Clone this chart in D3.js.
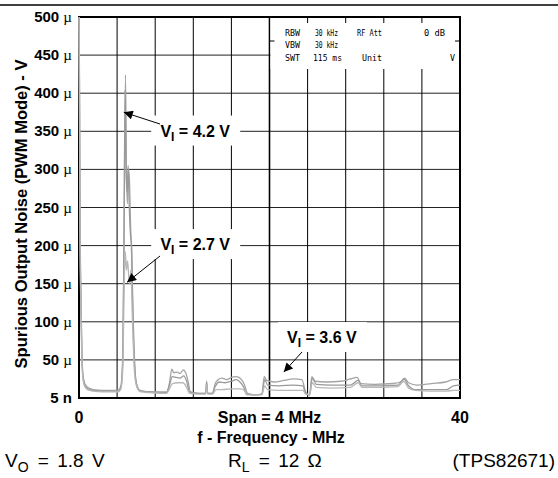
<!DOCTYPE html>
<html>
<head>
<meta charset="utf-8">
<script src="https://cdn.jsdelivr.net/npm/d3@7"></script>
<style>
  body { margin: 0; background: #fff; }
  text { font-family: "Liberation Sans", Arial, sans-serif; }
</style>
</head>
<body>
<svg id="chart" width="558" height="478"></svg>
<script>
// y grid values (uV) and their labels
var yTicks = [500, 450, 400, 350, 300, 250, 200, 150, 100, 50, 0];
var yTickLabels = ["500", "450", "400", "350", "300", "250", "200", "150", "100", "50", "5"];
var yTickUnits = ["µ", "µ", "µ", "µ", "µ", "µ", "µ", "µ", "µ", "µ", "n"];
var xGrid = [0, 4, 8, 12, 16, 20, 24, 28, 32, 36, 40];

// traces: [frequency, noise uV]
var trace42 = [[0, 520], [0.05, 420], [0.1, 260], [0.2, 140], [0.3, 65], [0.4, 32], [0.6, 19], [0.9, 14], [1.5, 11], [2.5, 10], [3.5, 10], [4.1, 10], [4.4, 16], [4.6, 60], [4.75, 250], [4.88, 424], [4.98, 300], [5.08, 255], [5.2, 300], [5.3, 285], [5.42, 225], [5.52, 190], [5.65, 110], [5.82, 45], [6.05, 18], [6.4, 10], [7.5, 8], [9.2, 8], [9.5, 20], [9.75, 38], [9.95, 33], [10.3, 34], [10.6, 32], [10.95, 37], [11.2, 33], [11.45, 22], [11.7, 8], [12.5, 6], [13.3, 6], [13.4, 22], [13.5, 6], [14.0, 6], [14.3, 19], [14.6, 24], [15.0, 26], [15.5, 24], [16.0, 27], [16.5, 28], [17.0, 25], [17.35, 18], [17.7, 6], [18.5, 4], [19.2, 5], [19.45, 28], [19.7, 23], [20.5, 21], [21.5, 23], [22.5, 25], [23.4, 24], [23.8, 8], [24.2, 4], [24.45, 28], [24.8, 22], [26, 21], [27.5, 22], [28.5, 25], [29.2, 27], [29.6, 19], [31, 18], [33, 19], [33.9, 22], [34.2, 26], [34.6, 20], [35.5, 17], [37, 19], [38.5, 21], [39.3, 24], [40, 24]];
var trace36 = [[0, 520], [0.05, 400], [0.1, 240], [0.2, 125], [0.3, 58], [0.4, 30], [0.6, 17], [0.9, 12], [1.5, 10], [2.5, 9], [3.5, 9], [4.1, 9], [4.4, 14], [4.6, 50], [4.72, 200], [4.84, 404], [4.96, 290], [5.06, 270], [5.16, 305], [5.28, 250], [5.4, 215], [5.52, 200], [5.64, 130], [5.85, 45], [6.05, 17], [6.4, 9], [7.5, 8], [9.2, 7], [9.5, 17], [9.8, 28], [10.2, 27], [10.6, 26], [11.0, 29], [11.3, 22], [11.6, 8], [12.5, 6], [13.3, 6], [13.4, 20], [13.5, 6], [14.0, 6], [14.3, 15], [14.7, 21], [15.3, 20], [16.0, 22], [16.5, 24], [16.9, 21], [17.3, 14], [17.6, 5], [18.5, 4], [19.2, 5], [19.5, 24], [19.8, 17], [21, 16], [22.5, 17], [23.5, 16], [23.8, 6], [24.2, 4], [24.5, 26], [24.9, 18], [26.5, 17], [28.5, 17], [29.3, 23], [29.7, 16], [31.5, 16], [33.5, 17], [34.1, 25], [34.6, 16], [35.3, 11], [37, 11], [38.6, 11], [39.3, 16], [40, 17]];
var trace27 = [[0, 520], [0.05, 380], [0.1, 220], [0.2, 115], [0.3, 52], [0.4, 27], [0.6, 15], [0.9, 11], [1.5, 9], [2.5, 8], [3.5, 8], [4.1, 8], [4.4, 12], [4.6, 40], [4.75, 150], [4.86, 192], [4.98, 168], [5.1, 180], [5.22, 160], [5.32, 150], [5.45, 168], [5.58, 115], [5.75, 50], [5.95, 20], [6.2, 11], [6.5, 8], [7.5, 7], [9.2, 6], [9.5, 12], [9.8, 19], [10.4, 20], [10.9, 20], [11.3, 14], [11.6, 6], [12.5, 5], [13.3, 5], [13.4, 18], [13.5, 5], [14.0, 5], [14.4, 11], [15.0, 11], [16.0, 12], [17.0, 12], [17.4, 9], [17.6, 4], [18.5, 4], [19.2, 4], [19.5, 16], [19.8, 11], [21, 10], [22.5, 10], [23.5, 10], [23.8, 5], [24.2, 4], [24.5, 20], [24.9, 14], [26.5, 13], [28.5, 14], [29.3, 20], [29.7, 14], [31.5, 14], [33.5, 15], [34.1, 22], [34.6, 13], [35.3, 10], [37, 9], [38.6, 9], [39.3, 10], [40, 10]];

var traces = [
  { name: "4.2", data: trace42, color: "#a4a4a4" },
  { name: "3.6", data: trace36, color: "#9a9a9a" },
  { name: "2.7", data: trace27, color: "#b8b8b8" }
];

// annotation labels: text value, label centre, arrow tip (in data units)
var annotations = [
  { label: "4.2 V", at: [12.2, 351], tip: [4.7, 375] },
  { label: "2.7 V", at: [12.2, 202], tip: [5.05, 152] },
  { label: "3.6 V", at: [25.5, 80], tip: [21.5, 34] }
];

var svg = d3.select("#chart");
var margin = { top: 17, right: 98, bottom: 80, left: 79 };
var width = 558 - margin.left - margin.right,
    height = 478 - margin.top - margin.bottom;

var x = d3.scaleLinear().domain([0, 40]).range([margin.left, margin.left + width]);
var y = d3.scaleLinear().domain([0, 500]).range([margin.top + height, margin.top]);

// rule at top of page
svg.append("line").attr("x1", 0).attr("x2", 558).attr("y1", 5).attr("y2", 5)
  .attr("stroke", "#000").attr("stroke-width", 1.5);

// grid
var grid = svg.append("g");
grid.selectAll(".hg").data(yTicks).enter().append("line")
  .attr("x1", x(0)).attr("x2", x(40))
  .attr("y1", d => y(d)).attr("y2", d => y(d))
  .attr("stroke", "#222").attr("stroke-width", 1);
grid.selectAll(".vg").data(xGrid).enter().append("line")
  .attr("x1", d => x(d)).attr("x2", d => x(d))
  .attr("y1", y(500)).attr("y2", y(0))
  .attr("stroke", "#000").attr("stroke-width", d => d == 20 ? 1.6 : 1);

// info box (instrument settings), blanks grid under it
var boxX = x(20), boxW = x(40) - x(20), boxH = 52;
svg.append("rect").attr("x", boxX + 1).attr("y", y(500)).attr("width", boxW - 1).attr("height", boxH)
  .attr("fill", "#fff");
xGrid.filter(d => d > 20 && d < 40).forEach(function (d) {
  svg.append("line").attr("x1", x(d)).attr("x2", x(d)).attr("y1", y(500)).attr("y2", y(500) + 6)
    .attr("stroke", "#000");
});
[[boxX, boxX + 5], [x(40) - 5, x(40)]].forEach(function (p) {
  svg.append("line").attr("x1", p[0]).attr("x2", p[1]).attr("y1", 41).attr("y2", 41).attr("stroke", "#000");
});
// [text, x, baseline, width]
var info = [
  ["RBW", 285, 36, 15], ["30 kHz", 315, 36, 23], ["RF Att", 357, 36, 25], ["0 dB", 424, 36, 21],
  ["VBW", 285, 48, 15], ["30 kHz", 315, 48, 23],
  ["SWT", 285, 61, 15], ["115 ms", 313, 61, 29], ["Unit", 362, 61, 20], ["V", 450, 61, 5]
];
svg.selectAll(".info").data(info).enter().append("text")
  .attr("x", d => d[1]).attr("y", d => d[2])
  .attr("textLength", d => d[3]).attr("lengthAdjust", "spacingAndGlyphs")
  .style("font-family", "'DejaVu Sans Mono', monospace").style("font-size", "8.5px")
  .text(d => d[0]);

// annotation backgrounds
annotations.forEach(function (a) {
  svg.append("rect").attr("x", x(a.at[0]) - 44).attr("y", y(a.at[1]) - 15)
    .attr("width", 89).attr("height", 30).attr("fill", "#fff");
});

// frame
svg.append("rect").attr("x", x(0)).attr("y", y(500)).attr("width", width).attr("height", height)
  .attr("fill", "none").attr("stroke", "#000").attr("stroke-width", 2);

// traces
svg.append("clipPath").attr("id", "clip").append("rect")
  .attr("x", x(0) - 2).attr("y", y(500)).attr("width", width + 2).attr("height", height);
var line = d3.line().x(d => x(d[0])).y(d => y(d[1])).curve(d3.curveMonotoneX);
svg.append("g").attr("clip-path", "url(#clip)")
  .selectAll("path").data(traces).enter().append("path")
  .attr("d", d => line(d.data))
  .attr("fill", "none").attr("stroke", d => d.color).attr("stroke-width", 1.3);

// arrows
svg.append("defs").append("marker").attr("id", "arrow")
  .attr("viewBox", "0 0 10 10").attr("refX", 10).attr("refY", 5)
  .attr("markerWidth", 11).attr("markerHeight", 9).attr("markerUnits", "userSpaceOnUse")
  .attr("orient", "auto")
  .append("path").attr("d", "M0,0L10,5L0,10z").attr("fill", "#000");

annotations.forEach(function (a) {
  var t = svg.append("text").attr("x", x(a.at[0])).attr("y", y(a.at[1]) + 6)
    .attr("text-anchor", "middle").style("font-weight", "bold").style("font-size", "16px");
  t.append("tspan").text("V");
  t.append("tspan").attr("dy", 4).style("font-size", "12px").text("I");
  t.append("tspan").attr("dy", -4).text("  = " + a.label);
});
var arrowStart = [[160, 124], [160, 256], [302, 352]];
annotations.forEach(function (a, i) {
  svg.append("line").attr("x1", arrowStart[i][0]).attr("y1", arrowStart[i][1])
    .attr("x2", x(a.tip[0])).attr("y2", y(a.tip[1]))
    .attr("stroke", "#000").attr("stroke-width", 1).attr("marker-end", "url(#arrow)");
});

// y tick labels
var yl = svg.append("g").selectAll("text").data(yTicks).enter().append("text")
  .attr("x", 72).attr("y", d => y(d) + 5).attr("text-anchor", "end")
  .style("font-size", "15px").style("font-weight", "bold");
yl.append("tspan").text((d, i) => yTickLabels[i] + " ");
yl.append("tspan").style("font-family", (d, i) => yTickUnits[i] == "µ" ? "'Liberation Serif', serif" : null)
  .style("font-weight", (d, i) => yTickUnits[i] == "µ" ? "normal" : "bold")
  .text((d, i) => yTickUnits[i]);

// x labels
svg.append("text").attr("x", x(0)).attr("y", 423).attr("text-anchor", "middle")
  .style("font-size", "16px").style("font-weight", "bold").text("0");
svg.append("text").attr("x", x(40)).attr("y", 423).attr("text-anchor", "middle")
  .style("font-size", "16px").style("font-weight", "bold").text("40");
svg.append("text").attr("x", x(20)).attr("y", 423).attr("text-anchor", "middle")
  .style("font-size", "16px").style("font-weight", "bold").text("Span = 4 MHz");
svg.append("text").attr("x", 271).attr("y", 443).attr("text-anchor", "middle")
  .style("font-size", "16px").style("font-weight", "bold").text("f - Frequency - MHz");

// y axis title
svg.append("text").attr("transform", "translate(27,214) rotate(-90)")
  .attr("text-anchor", "middle").style("font-size", "16.5px").style("font-weight", "bold")
  .text("Spurious Output Noise (PWM Mode) - V");

// conditions row
var cond = svg.append("g").style("font-size", "19px").style("word-spacing", "3px");
var c1 = cond.append("text").attr("x", 5).attr("y", 467);
c1.append("tspan").text("V");
c1.append("tspan").attr("dy", 5).style("font-size", "14px").text("O");
c1.append("tspan").attr("dy", -5).attr("dx", 1).text(" = 1.8 V");
var c2 = cond.append("text").attr("x", 228).attr("y", 467);
c2.append("tspan").text("R");
c2.append("tspan").attr("dy", 5).style("font-size", "14px").text("L");
c2.append("tspan").attr("dy", -5).attr("dx", 1).text(" = 12 Ω");
cond.append("text").attr("x", 555).attr("y", 467).attr("text-anchor", "end").text("(TPS82671)");
</script>
</body>
</html>
